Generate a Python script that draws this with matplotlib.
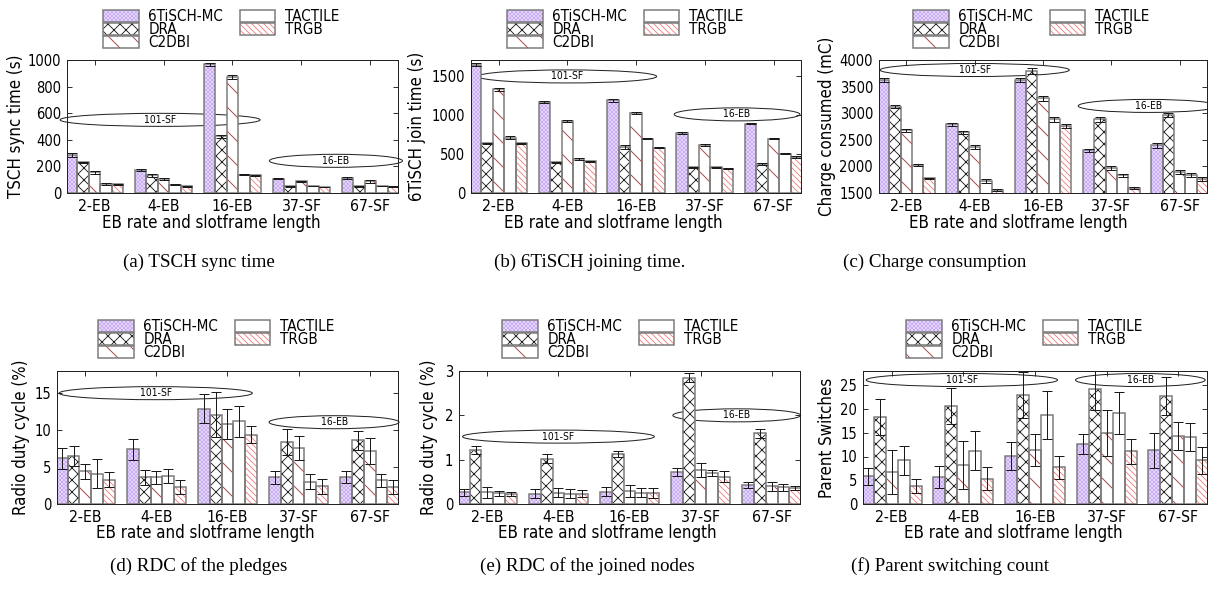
import numpy as np
import matplotlib
matplotlib.use('Agg')
import matplotlib.pyplot as plt
from matplotlib.patches import Ellipse, Patch
from matplotlib.legend_handler import HandlerTuple
from matplotlib import font_manager

W, H, DPI = 1208, 591, 72

# ---------------- data ----------------
categories = ['2-EB', '4-EB', '16-EB', '37-SF', '67-SF']
methods = ['6TiSCH-MC', 'DRA', 'C2DBI', 'TACTILE', 'TRGB']

# rows: methods (6TiSCH-MC, DRA, C2DBI, TACTILE, TRGB); cols: categories
sync_time = [[285, 175, 968, 107, 112],
             [230, 132, 425, 50, 50],
             [155, 105, 875, 87, 88],
             [70, 62, 137, 52, 52],
             [65, 52, 135, 45, 48]]
sync_err = [[12, 8, 10, 4, 10],
            [4, 8, 10, 3, 3],
            [12, 10, 15, 4, 12],
            [8, 5, 5, 3, 3],
            [4, 4, 4, 3, 3]]

join_time = [[1641, 1161, 1187, 763, 887],
             [634, 394, 591, 326, 369],
             [1324, 921, 1024, 609, 694],
             [707, 433, 694, 330, 501],
             [634, 403, 579, 309, 463]]
join_err = [[15, 15, 20, 15, 10],
            [8, 5, 25, 10, 10],
            [20, 15, 15, 12, 8],
            [20, 8, 8, 8, 8],
            [5, 10, 5, 8, 10]]

charge = [[3619, 2794, 3619, 2300, 2400],
          [3125, 2644, 3800, 2888, 2970],
          [2675, 2362, 3281, 1969, 1888],
          [2025, 1719, 2888, 1831, 1832],
          [1775, 1556, 2756, 1594, 1757]]
charge_err = [[35, 30, 40, 35, 45],
              [25, 30, 55, 45, 40],
              [30, 35, 45, 45, 40],
              [25, 40, 45, 30, 35],
              [15, 25, 35, 25, 35]]

rdc_pledge = [[6.2, 7.4, 12.9, 3.6, 3.7],
              [6.5, 3.6, 12.1, 8.4, 8.6],
              [4.4, 3.6, 10.8, 7.6, 7.2],
              [4.1, 3.8, 11.2, 3.0, 3.2],
              [3.3, 2.3, 9.4, 2.4, 2.3]]
rdc_pledge_err = [[1.4, 1.4, 2.0, 0.9, 0.8],
                  [1.4, 1.0, 3.0, 1.8, 1.3],
                  [1.0, 0.9, 2.0, 1.6, 1.8],
                  [2.0, 1.0, 2.1, 1.0, 0.9],
                  [1.0, 0.9, 1.2, 1.0, 1.0]]

rdc_joined = [[0.26, 0.23, 0.28, 0.72, 0.42],
              [1.22, 1.02, 1.12, 2.85, 1.60],
              [0.26, 0.25, 0.29, 0.77, 0.40],
              [0.24, 0.23, 0.25, 0.70, 0.38],
              [0.23, 0.23, 0.25, 0.62, 0.36]]
rdc_joined_err = [[0.08, 0.10, 0.10, 0.09, 0.07],
                  [0.09, 0.10, 0.07, 0.10, 0.10],
                  [0.13, 0.10, 0.13, 0.15, 0.10],
                  [0.05, 0.10, 0.10, 0.06, 0.08],
                  [0.05, 0.08, 0.11, 0.12, 0.05]]

parent_sw = [[5.8, 5.6, 10.1, 12.6, 11.3],
             [18.3, 20.6, 22.9, 24.2, 22.7],
             [6.7, 8.2, 11.4, 14.9, 14.3],
             [9.2, 11.2, 18.7, 19.1, 14.1],
             [3.8, 5.3, 7.7, 11.1, 9.2]]
parent_sw_err = [[1.7, 2.3, 3.0, 2.1, 3.7],
                 [3.8, 3.8, 4.8, 4.5, 4.0],
                 [4.6, 5.1, 3.3, 4.8, 2.9],
                 [3.0, 4.1, 5.0, 4.4, 3.0],
                 [1.4, 2.4, 2.4, 2.6, 2.8]]

ylabels = ['TSCH sync time (s)', '6TiSCH join time (s)', 'Charge consumed (mC)',
           'Radio duty cycle (%)', 'Radio duty cycle (%)', 'Parent Switches']
captions = ['(a) TSCH sync time', '(b) 6TiSCH joining time.', '(c) Charge consumption',
            '(d) RDC of the pledges', '(e) RDC of the joined nodes',
            '(f) Parent switching count']
xlabel = 'EB rate and slotframe length'
ylims = [(0, 1000), (0, 1700), (1500, 4000), (0, 18), (0, 3), (0, 28)]
yticks = [[0, 200, 400, 600, 800, 1000], [0, 500, 1000, 1500],
          [1500, 2000, 2500, 3000, 3500, 4000], [0, 5, 10, 15], [0, 1, 2, 3],
          [0, 5, 10, 15, 20, 25]]
# annotation ellipses: (label, x-center in group units, y-center, width in group units)
ellipses = [[('101-SF', 0.95, 550, 2.9), ('16-EB', 3.5, 242, 1.93)],
            [('101-SF', 1.0, 1490, 2.6), ('16-EB', 3.47, 1005, 1.83)],
            [('101-SF', 1.0, 3812, 2.77), ('16-EB', 3.54, 3137, 2.05)],
            [('101-SF', 0.99, 15.0, 2.72), ('16-EB', 3.5, 11.07, 1.83)],
            [('101-SF', 1.0, 1.52, 2.7), ('16-EB', 3.51, 2.0, 1.8)],
            [('101-SF', 0.98, 26.1, 2.67), ('16-EB', 3.47, 26.1, 1.81)]]

panels = [(sync_time, sync_err), (join_time, join_err), (charge, charge_err),
          (rdc_pledge, rdc_pledge_err), (rdc_joined, rdc_joined_err),
          (parent_sw, parent_sw_err)]

# ---------------- style ----------------
cond = [f for f in font_manager.fontManager.ttflist
        if 'DejaVuSansCondensed.ttf' in f.fname]
if cond:
    plt.rcParams['font.family'] = [cond[0].name]
    plt.rcParams['font.stretch'] = cond[0].stretch
    fs = 1.08
else:
    plt.rcParams['font.family'] = ['DejaVu Sans']
    fs = 1.0
plt.rcParams['hatch.linewidth'] = 0.9

faces = ['#ece0fd', 'white', 'white', 'white', 'white']
hatches = ['xxxxxx', 'xx', '\\', None, '\\\\\\\\']
hatch_cols = ['#c9acf4', '#222222', '#a83a3a', '#ffffff', '#f28080']
edge_col = '#7a7a7a'

# axes boxes in pixels: (left, right, top, bottom)
boxes = [(67, 398, 60, 193), (471, 801, 60, 193), (879, 1207, 60, 193),
         (57, 398, 371, 504), (459, 800, 371, 504), (863, 1207, 371, 504)]
legend_pos = [(103, 9), (507, 9), (913, 9), (98, 319), (502, 319), (906, 319)]
ylabel_x = [16, 417, 827, 21, 429, 827]
xlabel_pos = [(211, 223), (613, 223), (1018, 223), (205, 533), (607, 533), (1013, 533)]
caption_pos = [(199, 262), (590, 262), (935, 262), (199, 566), (587, 566), (950, 566)]

fig = plt.figure(figsize=(W / DPI, H / DPI), dpi=DPI)

bw = 1.0 / 6
xg = np.arange(len(categories))

for k, (vals, errs) in enumerate(panels):
    l, r, t, b = boxes[k]
    ax = fig.add_axes([l / W, 1 - b / H, (r - l) / W, (b - t) / H])
    handles = []
    for j, m in enumerate(methods):
        xs = xg + (j - 2) * bw
        ax.bar(xs, vals[j], bw, color=faces[j], hatch=hatches[j],
               edgecolor=hatch_cols[j], linewidth=0, zorder=2)
        ax.bar(xs, vals[j], bw, fill=False, edgecolor=edge_col,
               linewidth=1.5, zorder=2.1)
        ax.errorbar(xs, vals[j], yerr=errs[j], fmt='none', ecolor='#1a1a1a',
                    elinewidth=1, capsize=5, capthick=1, zorder=3)
        h1 = Patch(facecolor=faces[j], hatch=hatches[j], edgecolor=hatch_cols[j],
                   linewidth=0)
        h2 = Patch(fill=False, edgecolor=edge_col, linewidth=1.5)
        handles.append((h1, h2))
    ax.set_xlim(-0.4, 4.4)
    ax.set_ylim(*ylims[k])
    ax.set_yticks(yticks[k])
    ax.set_xticks(xg)
    ax.set_xticklabels(categories, fontsize=14.5 * fs)
    ax.tick_params(axis='y', labelsize=13.5 * fs, pad=6)
    ax.tick_params(axis='x', pad=6)
    ax.tick_params(direction='in', top=True, right=True, length=5, width=1,
                   color='#333333')
    ax.set_axisbelow(True)
    for sp in ax.spines.values():
        sp.set_linewidth(1)
        sp.set_color('#222222')
    yr = ylims[k][1] - ylims[k][0]
    for (lab, cx, cy, w) in ellipses[k]:
        e = Ellipse((cx, cy), w, 0.098 * yr, facecolor='none', edgecolor='#222222',
                    linewidth=1, zorder=1.5, clip_on=False)
        ax.add_patch(e)
        ax.text(cx, cy, lab, ha='center', va='center', fontsize=9.5 * fs,
                zorder=1.6)
    lx, ly = legend_pos[k]
    ax.legend(handles, methods, handler_map={tuple: HandlerTuple(ndivide=1, pad=0)},
              loc='upper left', bbox_to_anchor=(lx / W, 1 - ly / H),
              bbox_transform=fig.transFigure, ncol=2, frameon=False,
              fontsize=14 * fs, borderpad=0, borderaxespad=0, handlelength=2.35,
              handleheight=0.8, handletextpad=0.65, labelspacing=-0.12,
              columnspacing=1.1)
    cy_ax = (t + b) / 2
    fig.text(ylabel_x[k] / W, 1 - cy_ax / H, ylabels[k], rotation=90,
             ha='center', va='center', fontsize=15.5 * fs)
    xx, yy = xlabel_pos[k]
    fig.text(xx / W, 1 - yy / H, xlabel, ha='center', va='center',
             fontsize=15.5 * fs)
    cx_, cy_ = caption_pos[k]
    fig.text(cx_ / W, 1 - cy_ / H, captions[k], ha='center', va='center',
             fontsize=19, family='Liberation Serif')

fig.savefig('out.png', dpi=DPI)
